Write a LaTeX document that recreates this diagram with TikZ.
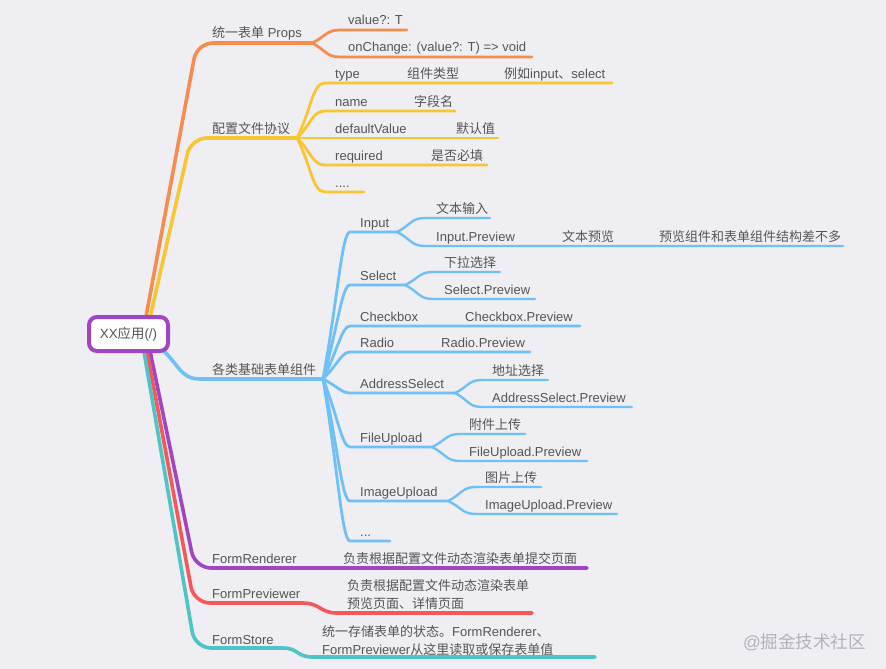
\documentclass[tikz,border=0pt]{standalone}
\usepackage{fontspec}
\setmainfont{Liberation Sans}
\newfontfamily\cjk{Noto Sans CJK SC}
\usetikzlibrary{calc}
\definecolor{bg}{RGB}{238,238,243}
\definecolor{cOr}{RGB}{248,140,80}
\definecolor{cYe}{RGB}{248,198,50}
\definecolor{cBl}{RGB}{110,192,246}
\definecolor{cPu}{RGB}{160,70,195}
\definecolor{cRe}{RGB}{246,88,90}
\definecolor{cTe}{RGB}{78,196,196}
\definecolor{txt}{RGB}{85,85,85}
\definecolor{wmc}{RGB}{178,178,184}
% \lnk[opts]{from}{to}{end}{p}{q}
\newcommand\lnk[6][]{%
  \draw[#1] let \p1=(#2), \p2=(#3) in (\p1) .. controls ({\x1+#5*(\x2-\x1)},{\y1+#5*(\y2-\y1)}) and ({\x1+#6*(\x2-\x1)},\y2) .. (\p2) -- (#4);%
}
\tikzset{
  mainln/.style={line width=3.6pt, line cap=round, line join=round, rounded corners=16pt},
  subln/.style={line width=2.8pt, line cap=round},
  subsubln/.style={line width=2.4pt, line cap=round},
  lbl/.style={anchor=base west, inner sep=0pt, text=txt, font=\fontsize{13}{15}\selectfont},
  rootbox/.style={draw=cPu, line width=4pt, rounded corners=8pt, fill=white, minimum width=79pt, minimum height=34pt, inner sep=0pt, text=txt, font=\fontsize{13.4}{15}\selectfont}
}
\begin{document}
\begin{tikzpicture}[x=1pt,y=-1pt]
\fill[bg] (0,0) rectangle (886,669);
\useasboundingbox (0,0) rectangle (886,669);

% ---------- coordinates ----------
% orange
\coordinate (oS) at (145,322); \coordinate (oC) at (197,43);
\coordinate (propsF) at (312,43);
\coordinate (valL) at (340,30); \coordinate (valE) at (407,30);
\coordinate (chgL) at (340,57); \coordinate (chgE) at (532,57);
% yellow
\coordinate (yS) at (149,322); \coordinate (yC) at (191,138);
\coordinate (cfgF) at (297,138);
\coordinate (typeL) at (325,83); \coordinate (typeE) at (612,83);
\coordinate (nameL) at (325,111); \coordinate (nameE) at (455,111);
\coordinate (defL) at (325,138); \coordinate (defE) at (498,138);
\coordinate (reqL) at (325,165); \coordinate (reqE) at (487,165);
\coordinate (dotsL) at (325,192); \coordinate (dotsE) at (364,192);
% blue
\coordinate (bS) at (158,346); \coordinate (compL) at (200,379); \coordinate (compF) at (323,379);
\coordinate (inL) at (350,232); \coordinate (inF) at (397,232);
\coordinate (in1L) at (425,218); \coordinate (in1E) at (490,218);
\coordinate (in2L) at (425,246); \coordinate (in2E) at (843,246);
\coordinate (selL) at (350,285); \coordinate (selF) at (405,285);
\coordinate (sel1L) at (433,272); \coordinate (sel1E) at (500,272);
\coordinate (sel2L) at (433,299); \coordinate (sel2E) at (535,299);
\coordinate (cbL) at (350,326); \coordinate (cbE) at (580,326);
\coordinate (radL) at (350,352); \coordinate (radE) at (530,352);
\coordinate (addrL) at (350,393); \coordinate (addrF) at (455,393);
\coordinate (addr1L) at (482,380); \coordinate (addr1E) at (548,380);
\coordinate (addr2L) at (482,407); \coordinate (addr2E) at (632,407);
\coordinate (fileL) at (350,447); \coordinate (fileF) at (432,447);
\coordinate (file1L) at (460,434); \coordinate (file1E) at (525,434);
\coordinate (file2L) at (460,461); \coordinate (file2E) at (587,461);
\coordinate (imgL) at (350,501); \coordinate (imgF) at (448,501);
\coordinate (img1L) at (476,487); \coordinate (img1E) at (541,487);
\coordinate (img2L) at (476,514); \coordinate (img2E) at (617,514);
\coordinate (bdotL) at (350,541); \coordinate (bdotE) at (390,541);
% purple / red / teal
\coordinate (pS) at (149,346); \coordinate (pC) at (195,568); \coordinate (rendE) at (587,568);
\coordinate (rS) at (146,346); \coordinate (rC) at (194,603); \coordinate (prevM) at (303,603);
\coordinate (prevN) at (337,613); \coordinate (prevE) at (532,613);
\coordinate (tS) at (143,346); \coordinate (tC) at (195,648); \coordinate (storeM) at (283,648);
\coordinate (storeN) at (312,657); \coordinate (storeE) at (595,657);

% ---------- connectors ----------
% orange
\draw[mainln, cOr] (oS) -- (oC) -- (propsF);
\lnk[subln, cOr]{propsF}{valL}{valE}{0.5}{0.5}
\lnk[subln, cOr]{propsF}{chgL}{chgE}{0.5}{0.5}
% yellow
\draw[mainln, cYe] (yS) -- (yC) -- (cfgF);
\lnk[subln, cYe]{cfgF}{typeL}{typeE}{0.5}{0.55}
\lnk[subln, cYe]{cfgF}{nameL}{nameE}{0.5}{0.55}
\lnk[subln, cYe]{cfgF}{defL}{defE}{0.5}{0.55}
\lnk[subln, cYe]{cfgF}{reqL}{reqE}{0.5}{0.55}
\lnk[subln, cYe]{cfgF}{dotsL}{dotsE}{0.5}{0.55}
% blue
\lnk[mainln, rounded corners=0pt, cBl]{bS}{compL}{compF}{0.5}{0.5}
\lnk[subln, cBl]{compF}{inL}{inF}{0.55}{0.7}
\lnk[subsubln, cBl]{inF}{in1L}{in1E}{0.5}{0.5}
\lnk[subsubln, cBl]{inF}{in2L}{in2E}{0.5}{0.5}
\lnk[subln, cBl]{compF}{selL}{selF}{0.55}{0.7}
\lnk[subsubln, cBl]{selF}{sel1L}{sel1E}{0.5}{0.5}
\lnk[subsubln, cBl]{selF}{sel2L}{sel2E}{0.5}{0.5}
\lnk[subln, cBl]{compF}{cbL}{cbE}{0.55}{0.7}
\lnk[subln, cBl]{compF}{radL}{radE}{0.55}{0.7}
\lnk[subln, cBl]{compF}{addrL}{addrF}{0.55}{0.7}
\lnk[subsubln, cBl]{addrF}{addr1L}{addr1E}{0.5}{0.5}
\lnk[subsubln, cBl]{addrF}{addr2L}{addr2E}{0.5}{0.5}
\lnk[subln, cBl]{compF}{fileL}{fileF}{0.55}{0.7}
\lnk[subsubln, cBl]{fileF}{file1L}{file1E}{0.5}{0.5}
\lnk[subsubln, cBl]{fileF}{file2L}{file2E}{0.5}{0.5}
\lnk[subln, cBl]{compF}{imgL}{imgF}{0.55}{0.7}
\lnk[subsubln, cBl]{imgF}{img1L}{img1E}{0.5}{0.5}
\lnk[subsubln, cBl]{imgF}{img2L}{img2E}{0.5}{0.5}
\lnk[subln, cBl]{compF}{bdotL}{bdotE}{0.55}{0.7}
% purple
\draw[mainln, cPu] (pS) -- (pC) -- (rendE);
% red
\draw[mainln, cRe] (rS) -- (rC) -- (prevM);
\draw[mainln, rounded corners=0pt, cRe] (prevM) .. controls +(17,0) and +(-17,0) .. (prevN) -- (prevE);
% teal
\draw[mainln, cTe] (tS) -- (tC) -- (storeM);
\draw[mainln, rounded corners=0pt, cTe] (storeM) .. controls +(15,0) and +(-15,0) .. (storeN) -- (storeE);

% ---------- root ----------
\node[rootbox] (root) at (128.5,334) {XX{\cjk 应用}(/)};

% ---------- labels ----------
\node[lbl] (props) at (212,38) {{\cjk 统一表单} Props};
\node[lbl] (val) at (348,25) {value?: T};
\node[lbl] (chg) at (348,52) {onChange: (value?: T) => void};

\node[lbl] (cfg) at (212,133) {\cjk 配置文件协议};
\node[lbl] (ktype) at (335,78) {type};
\node[lbl] (ktypeb) at (407,78) {\cjk 组件类型};
\node[lbl] (ktypec) at (504,78) {{\cjk 例如}input{\cjk 、}select};
\node[lbl] (kname) at (335,106) {name};
\node[lbl] (knameb) at (414,106) {\cjk 字段名};
\node[lbl] (kdef) at (335,133) {defaultValue};
\node[lbl] (kdefb) at (456,133) {\cjk 默认值};
\node[lbl] (kreq) at (335,160) {required};
\node[lbl] (kreqb) at (431,160) {\cjk 是否必填};
\node[lbl] (kdots) at (335,187) {....};

\node[lbl] (comp) at (212,374) {\cjk 各类基础表单组件};
\node[lbl] (inp) at (360,227) {Input};
\node[lbl] (inpa) at (436,213) {\cjk 文本输入};
\node[lbl] (inpb) at (436,241) {Input.Preview};
\node[lbl] (inpc) at (562,241) {\cjk 文本预览};
\node[lbl] (inpd) at (659,241) {\cjk 预览组件和表单组件结构差不多};
\node[lbl] (sel) at (360,280) {Select};
\node[lbl] (sela) at (444,267) {\cjk 下拉选择};
\node[lbl] (selb) at (444,294) {Select.Preview};
\node[lbl] (cb) at (360,321) {Checkbox};
\node[lbl] (cbb) at (465,321) {Checkbox.Preview};
\node[lbl] (rad) at (360,347) {Radio};
\node[lbl] (radb) at (441,347) {Radio.Preview};
\node[lbl] (addr) at (360,388) {AddressSelect};
\node[lbl] (addra) at (492,375) {\cjk 地址选择};
\node[lbl] (addrb) at (492,402) {AddressSelect.Preview};
\node[lbl] (file) at (360,442) {FileUpload};
\node[lbl] (filea) at (469,429) {\cjk 附件上传};
\node[lbl] (fileb) at (469,456) {FileUpload.Preview};
\node[lbl] (img) at (360,496) {ImageUpload};
\node[lbl] (imga) at (485,482) {\cjk 图片上传};
\node[lbl] (imgb) at (485,509) {ImageUpload.Preview};
\node[lbl] (bdots) at (360,536) {...};

\node[lbl] (rend) at (212,563) {FormRenderer};
\node[lbl] (rendb) at (343,563) {\cjk 负责根据配置文件动态渲染表单提交页面};
\node[lbl] (prev) at (212,598) {FormPreviewer};
\node[lbl] (preva) at (347,590) {\cjk 负责根据配置文件动态渲染表单};
\node[lbl] (prevb) at (347,608) {\cjk 预览页面、详情页面};
\node[lbl] (store) at (212,644) {FormStore};
\node[lbl] (storea) at (322,636) {{\cjk 统一存储表单的状态。}FormRenderer{\cjk 、}};
\node[lbl] (storeb) at (322,654) {FormPreviewer{\cjk 从这里读取或保存表单值}};

\node[lbl, text=wmc, font=\fontsize{17.5}{20}\selectfont] (wm) at (743,648) {@{\cjk 掘金技术社区}};
\end{tikzpicture}
\end{document}
